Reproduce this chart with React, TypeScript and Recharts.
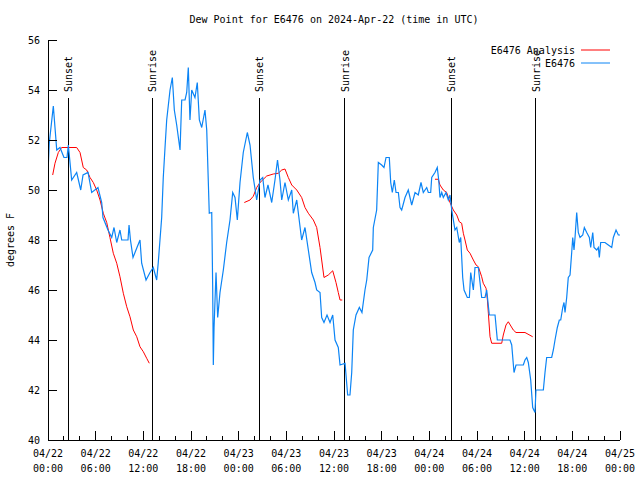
import React from 'react';
import { LineChart, Line, XAxis, YAxis, ReferenceLine } from 'recharts';

// hours since 04/22 00:00 UTC, dew point in F
const obsHours = [
  0.04, 0.16, 0.67, 0.88, 1.1, 1.51, 2.01, 2.39, 2.56, 2.98, 3.61, 4.12, 4.41, 5.04, 5.5, 6.29,
  6.76, 6.92, 7.55, 8.02, 8.31, 8.65, 9.06, 9.28, 10.07, 10.2, 10.38, 10.7, 11.2, 11.58, 11.79,
  12.34, 12.84, 13.25, 13.68, 13.88, 14.31, 14.51, 14.73, 14.94, 15.36, 15.65, 15.9, 16.2, 16.62,
  16.83, 17.25, 17.46, 17.66, 17.87, 18.09, 18.5, 18.79, 19.05, 19.35, 19.76, 19.98, 20.3, 20.61,
  20.73, 20.81, 20.9, 21.15, 21.36, 21.65, 22.07, 22.49, 22.91, 23.25, 23.54, 23.83, 24.17, 24.58,
  25.09, 25.43, 25.84, 26.27, 26.69, 27.03, 27.31, 27.69, 28.16, 28.57, 28.89, 29.2, 29.42, 29.83,
  30.25, 30.68, 30.88, 31.31, 31.93, 32.35, 32.77, 33.19, 33.61, 33.82, 34.24, 34.45, 34.74, 35.12,
  35.5, 35.84, 36.13, 36.54, 36.76, 37.39, 37.72, 38.01, 38.23, 38.43, 38.77, 39.19, 39.52, 39.9,
  40.12, 40.41, 40.87, 40.95, 41.37, 41.58, 42.0, 42.29, 42.55, 42.96, 43.14, 43.34, 43.59, 43.81,
  44.1, 44.31, 44.52, 44.94, 45.35, 45.78, 46.2, 46.61, 46.95, 47.24, 47.67, 47.87, 48.17, 48.3,
  48.71, 49.0, 49.18, 49.34, 49.56, 49.76, 50.1, 50.39, 50.6, 50.82, 51.23, 51.45, 51.77, 51.95,
  52.2, 52.37, 52.78, 53.04, 53.21, 53.54, 53.75, 54.17, 54.38, 54.59, 55.01, 55.22, 55.55, 56.27,
  56.56, 57.53, 58.15, 58.37, 58.66, 58.91, 59.83, 60.04, 60.26, 60.46, 60.76, 61.01, 61.3, 61.42,
  62.35, 62.56, 62.77, 63.4, 63.61, 63.82, 64.11, 64.36, 64.54, 64.79, 64.95, 65.08, 65.29, 65.49,
  65.71, 65.92, 66.05, 66.21, 66.34, 66.55, 66.75, 66.97, 67.31, 67.51, 67.81, 68.14, 68.31, 68.57,
  68.73, 69.07, 69.27, 69.4, 69.57, 70.11, 70.53, 70.96, 71.16, 71.5, 71.79, 72.0,
];
const obsDew = [
  51.0, 51.87, 53.36, 52.5, 51.6, 51.7, 51.3, 51.3, 51.8, 50.4, 50.7, 50.0, 50.6, 50.7, 49.9, 50.1,
  49.5, 48.9, 48.4, 48.1, 48.5, 47.9, 48.4, 48.0, 48.0, 48.6, 48.0, 47.3, 47.7, 48.0, 47.07,
  46.4, 46.7, 46.9, 46.4, 47.1, 48.9, 50.5, 51.7, 52.8, 54.0, 54.5, 53.2, 52.6, 51.6,
  53.6, 53.6, 53.9, 54.9, 52.8, 54.0, 53.7, 54.3, 52.8, 52.5, 53.2, 52.4, 49.07, 49.1,
  46.1, 43.0, 44.5, 46.7, 44.9, 45.9, 46.8, 47.9, 48.8, 49.9, 49.7, 48.8, 50.3, 51.5,
  52.3, 51.8, 50.5, 49.6, 50.4, 50.5, 49.7, 50.2, 49.5, 50.4, 51.2, 50.4, 49.6, 50.3,
  49.6, 50.0, 49.07, 49.6, 48.0, 48.5, 47.6, 46.7, 46.3, 46.0, 45.9, 44.9, 44.7, 45.0,
  44.7, 45.0, 44.0, 43.7, 43.0, 43.07, 41.8, 41.8, 42.7, 44.4, 45.0, 45.3, 45.1, 46.0,
  46.4, 47.3, 47.6, 48.5, 49.2, 51.1, 51.0, 50.9, 51.3, 51.3, 50.3, 49.9, 50.4, 49.9,
  49.9, 49.3, 49.2, 49.7, 50.0, 49.4, 49.9, 49.8, 50.3, 49.9, 50.1, 49.9, 49.9, 50.5,
  50.7, 50.9, 50.4, 49.7, 49.9, 49.7, 49.9, 49.6, 49.8, 49.2, 48.4, 48.5, 47.9, 48.1,
  46.5, 46.0, 45.7, 45.7, 46.7, 46.0, 46.9, 46.9, 46.3, 45.7, 45.7, 46.0, 45.0, 45.0,
  44.0, 44.0, 44.0, 43.8, 42.7, 43.0, 43.0, 43.2, 43.3, 43.1, 42.4, 41.3, 41.1, 42.0,
  42.0, 42.7, 43.3, 43.3, 43.6, 44.0, 44.5, 44.8, 44.8, 45.3, 45.5, 45.1, 45.7, 46.5,
  46.6, 47.5, 48.1, 47.6, 48.1, 49.1, 48.3, 48.1, 48.2, 48.5, 48.3, 48.1, 47.7, 48.3,
  47.7, 47.6, 47.7, 47.3, 47.9, 47.9, 47.8, 47.7, 48.1, 48.4, 48.2, 48.2,
];

// analysis comes in three pieces; null marks a gap
const anaHours = [
  0.59, 0.88, 1.3, 1.72, 3.61, 4.03, 4.44, 4.87, 5.29, 5.7, 6.13, 6.55, 6.96, 7.39, 7.8, 8.22,
  8.65, 9.06, 9.48, 9.91, 10.32, 10.74, 11.17, 11.58, 12.0, 12.42, 12.75,
  18.0,
  24.71, 25.43, 25.84, 26.27, 26.69, 27.53, 28.36, 28.99, 29.42, 29.83, 30.25, 30.68, 31.31, 31.93,
  32.35, 32.77, 33.4, 33.82, 34.24, 34.45, 34.74, 35.28, 35.84, 36.25, 36.54, 36.76, 37.04,
  42.0,
  48.71, 49.13, 49.34, 49.76, 50.18, 50.6, 51.02, 51.45, 51.77, 52.07, 52.28, 52.49, 52.78, 53.12,
  53.54, 53.88, 54.17, 54.59, 54.79, 55.14, 55.31, 55.43, 55.64, 55.85, 57.11, 57.31, 57.65, 57.94,
  58.57, 58.91, 60.04, 61.01,
];
const anaDew = [
  50.6, 51.07, 51.5, 51.7, 51.7, 51.5, 50.9, 50.8, 50.5, 50.3, 50.0, 49.6, 49.07, 48.7, 48.1, 47.47,
  47.07, 46.53, 45.87, 45.33, 44.93, 44.4, 44.13, 43.73, 43.53, 43.27, 43.07,
  null,
  49.5, 49.6, 49.75, 50.1, 50.3, 50.56, 50.64, 50.67, 50.8, 50.84, 50.5, 50.2, 50.0, 49.7,
  49.3, 49.07, 48.8, 48.5, 47.7, 47.2, 46.5, 46.6, 46.77, 46.3, 45.9, 45.6, 45.6,
  null,
  50.43, 50.43, 50.2, 50.0, 49.9, 49.5, 49.2, 49.0, 48.73, 48.67, 48.27, 48.0, 47.6, 47.47,
  47.2, 47.0, 46.93, 46.53, 46.27, 46.07, 45.6, 45.07, 44.13, 43.87, 43.87, 44.2, 44.6, 44.73,
  44.4, 44.3, 44.3, 44.13,
];

const sunEvents = [
  { h: 2.56, name: 'Sunset' },
  { h: 13.13, name: 'Sunrise' },
  { h: 26.6, name: 'Sunset' },
  { h: 37.35, name: 'Sunrise' },
  { h: 50.77, name: 'Sunset' },
  { h: 61.39, name: 'Sunrise' },
];

const dateLabels = ['04/22', '04/22', '04/22', '04/22', '04/23', '04/23', '04/23', '04/23', '04/24', '04/24', '04/24', '04/24', '04/25'];
const timeLabels = ['00:00', '06:00', '12:00', '18:00'];
const xTicks = Array.from({ length: 37 }, (_, i) => i * 2);
const yTicks = [40, 42, 44, 46, 48, 50, 52, 54, 56];

const obsData = obsHours.map((h, i) => ({ h, v: obsDew[i] }));
const anaData = anaHours.map((h, i) => ({ h, v: anaDew[i] }));

const FONT = '"DejaVu Sans Mono", monospace';
const BLUE = '#0b84f5';
const RED = '#ff0000';

const BottomTick = (props: any) => {
  const { x, y, payload } = props;
  const v = payload.value;
  const major = v % 6 === 0;
  return (
    <g>
      <line x1={x} y1={y} x2={x} y2={y - (major ? 9 : 4)} stroke="#000" shapeRendering="crispEdges" />
      {major && (
        <text x={x} fontFamily={FONT} fontSize={10} fill="#000" textAnchor="middle">
          <tspan x={x} y={y + 17}>{dateLabels[v / 6]}</tspan>
          <tspan x={x} y={y + 32}>{timeLabels[(v / 6) % 4]}</tspan>
        </text>
      )}
    </g>
  );
};

const TopTick = (props: any) => {
  const { x, y, payload } = props;
  const major = payload.value % 6 === 0;
  return <line x1={x} y1={y} x2={x} y2={y + (major ? 9 : 4)} stroke="#000" shapeRendering="crispEdges" />;
};

const LeftTick = (props: any) => {
  const { x, y, payload } = props;
  return (
    <g>
      <line x1={x} y1={y} x2={x + 9} y2={y} stroke="#000" shapeRendering="crispEdges" />
      <text x={x - 8} y={y + 4} fontFamily={FONT} fontSize={10} textAnchor="end" fill="#000">
        {payload.value}
      </text>
    </g>
  );
};

const RightTick = (props: any) => {
  const { x, y } = props;
  return <line x1={x} y1={y} x2={x - 9} y2={y} stroke="#000" shapeRendering="crispEdges" />;
};

const SunLabel = (props: any) => {
  const { viewBox, text } = props;
  const tx = viewBox.x + 4;
  const ty = viewBox.y - 6;
  return (
    <text x={tx} y={ty} transform={`rotate(-90, ${tx}, ${ty})`} fontFamily={FONT} fontSize={10} fill="#000">
      {text}
    </text>
  );
};

const axisLine = { stroke: '#000', shapeRendering: 'crispEdges' } as any;

export default function App() {
  return (
    <div style={{ position: 'absolute', left: 0, top: 0, width: 640, height: 480, background: '#fff' }}>
      <LineChart width={640} height={480} data={obsData} margin={{ top: 40, right: 20, bottom: 0, left: 0 }}>
        <XAxis
          dataKey="h"
          type="number"
          domain={[0, 72]}
          ticks={xTicks}
          interval={0}
          height={40}
          tickSize={0}
          tickMargin={0}
          tickLine={false}
          axisLine={axisLine}
          tick={<BottomTick />}
          allowDataOverflow
        />
        <XAxis
          xAxisId="top"
          orientation="top"
          type="number"
          domain={[0, 72]}
          ticks={xTicks}
          interval={0}
          height={0}
          tickSize={0}
          tickMargin={0}
          tickLine={false}
          axisLine={axisLine}
          tick={<TopTick />}
        />
        <YAxis
          type="number"
          domain={[40, 56]}
          ticks={yTicks}
          interval={0}
          width={48}
          tickSize={0}
          tickMargin={0}
          tickLine={false}
          axisLine={axisLine}
          tick={<LeftTick />}
          allowDataOverflow
        />
        <YAxis
          yAxisId="r"
          orientation="right"
          type="number"
          domain={[40, 56]}
          ticks={yTicks}
          interval={0}
          width={0}
          tickSize={0}
          tickMargin={0}
          tickLine={false}
          axisLine={axisLine}
          tick={<RightTick />}
        />
        {sunEvents.map((s, i) => (
          <ReferenceLine
            key={i}
            segment={[{ x: s.h, y: 53.68 }, { x: s.h, y: 40 }]}
            stroke="#000"
            strokeWidth={1}
            shapeRendering="crispEdges"
            label={(p: any) => <SunLabel {...p} text={s.name} />}
          />
        ))}
        <Line
          data={anaData}
          dataKey="v"
          stroke={RED}
          strokeWidth={1}
          dot={false}
          activeDot={false}
          type="linear"
          isAnimationActive={false}
        />
        <Line
          data={obsData}
          dataKey="v"
          stroke={BLUE}
          strokeWidth={1.2}
          dot={false}
          activeDot={false}
          type="linear"
          isAnimationActive={false}
        />
      </LineChart>
      <svg width={640} height={480} style={{ position: 'absolute', left: 0, top: 0, pointerEvents: 'none' }}>
        <text x={334} y={23} textAnchor="middle" fontFamily={FONT} fontSize={10} fill="#000">
          Dew Point for E6476 on 2024-Apr-22 (time in UTC)
        </text>
        <text x={14} y={240} transform="rotate(-90, 14, 240)" textAnchor="middle" fontFamily={FONT} fontSize={10} fill="#000">
          degrees F
        </text>
        <text x={575} y={54} textAnchor="end" fontFamily={FONT} fontSize={10} fill="#000">E6476 Analysis</text>
        <line x1={581} y1={50} x2={610} y2={50} stroke={RED} />
        <text x={575} y={67} textAnchor="end" fontFamily={FONT} fontSize={10} fill="#000">E6476</text>
        <line x1={581} y1={63} x2={610} y2={63} stroke={BLUE} />
      </svg>
    </div>
  );
}
